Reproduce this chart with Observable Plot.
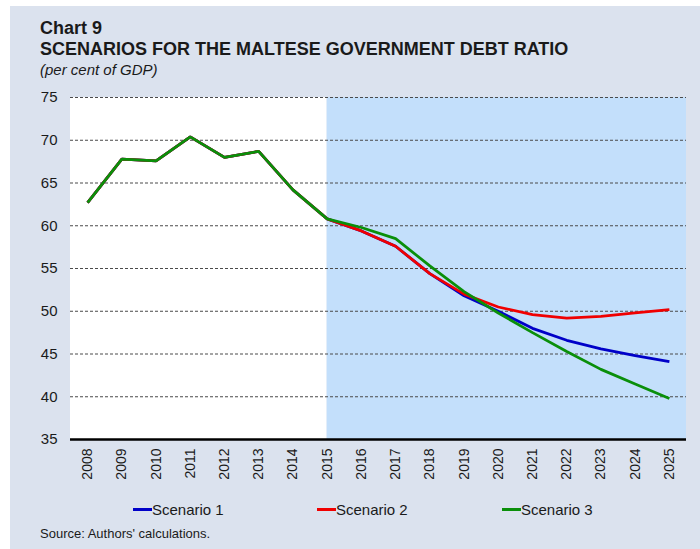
<!DOCTYPE html>
<html>
<head>
<meta charset="utf-8">
<script src="https://cdn.jsdelivr.net/npm/d3@7"></script>
<script src="https://cdn.jsdelivr.net/npm/@observablehq/plot@0.6"></script>
<style>
  html, body { margin: 0; padding: 0; background: #ffffff; }
  #page { position: relative; width: 700px; height: 549px; overflow: hidden; font-family: "Liberation Sans", Arial, sans-serif; color: #1a1a1a; }
  #panel { position: absolute; left: 10px; top: 6px; right: 0; bottom: 0; background: #dbe2ee; }
  .t { position: absolute; white-space: nowrap; line-height: 1; }
  #chart { position: absolute; left: 0; top: 80px; }
  .sw { position: absolute; height: 3px; width: 19px; }
</style>
</head>
<body>
<div id="page">
  <div id="panel"></div>
  <div class="t" style="left:40px; top:18.8px; font-size:18px; font-weight:bold;">Chart 9</div>
  <div class="t" style="left:40px; top:39.8px; font-size:18px; font-weight:bold;">SCENARIOS FOR THE MALTESE GOVERNMENT DEBT RATIO</div>
  <div class="t" style="left:40px; top:61.8px; font-size:15px; font-style:italic;">(per cent of GDP)</div>
  <div id="chart"></div>
  <div id="legend"></div>
  <div class="t" style="left:40px; top:527px; font-size:13px;">Source: Authors' calculations.</div>
</div>
<script>
// ---- data ----
const years = [2008, 2009, 2010, 2011, 2012, 2013, 2014, 2015, 2016, 2017, 2018, 2019, 2020, 2021, 2022, 2023, 2024, 2025];
const historical = [62.7, 67.8, 67.6, 70.4, 68.0, 68.7, 64.2, 60.8]; // 2008-2015
const projectionYears = [2016, 2017, 2018, 2019, 2020, 2021, 2022, 2023, 2024, 2025];
const scenario1 = [59.4, 57.6, 54.4, 51.8, 50.0, 48.0, 46.6, 45.6, 44.8, 44.1];
const scenario2 = [59.4, 57.6, 54.4, 52.0, 50.5, 49.6, 49.2, 49.4, 49.8, 50.2];
const scenario3 = [59.8, 58.5, 55.3, 52.3, 49.8, 47.5, 45.3, 43.2, 41.5, 39.8];
const seriesNames = ["Scenario 1", "Scenario 2", "Scenario 3"];
const seriesColors = ["#0000c8", "#f00000", "#0a8f0a"];
const yTicks = [35, 40, 45, 50, 55, 60, 65, 70, 75];
const gridValues = [40, 45, 50, 55, 60, 65, 70, 75];
const projectionStart = 2015;
const xDomain = [2007.5, 2025.5];
const yDomain = [35, 75];

// ---- build table ----
const histYears = years.slice(0, historical.length);
const projections = [scenario1, scenario2, scenario3];
const rows = [];
seriesNames.forEach((name, i) => {
  histYears.forEach((yr, j) => rows.push({series: name, year: yr, value: historical[j]}));
  projectionYears.forEach((yr, j) => rows.push({series: name, year: yr, value: projections[i][j]}));
});

const plot = Plot.plot({
  width: 700,
  height: 410,
  marginTop: 17,
  marginBottom: 51,
  marginLeft: 70,
  marginRight: 14,
  style: {background: "transparent", fontFamily: "Liberation Sans, Arial, sans-serif", color: "#1a1a1a"},
  x: {domain: xDomain, axis: null},
  y: {domain: yDomain, axis: null},
  color: {domain: seriesNames, range: seriesColors},
  marks: [
    Plot.rect([{x1: xDomain[0], x2: projectionStart, y1: yDomain[0], y2: yDomain[1]}], {x1: "x1", x2: "x2", y1: "y1", y2: "y2", fill: "#ffffff"}),
    Plot.rect([{x1: projectionStart, x2: xDomain[1], y1: yDomain[0], y2: yDomain[1]}], {x1: "x1", x2: "x2", y1: "y1", y2: "y2", fill: "#c3dffb"}),
    Plot.ruleY(gridValues, {stroke: "#4a4a4a", strokeWidth: 1, strokeDasharray: "3,2"}),
    Plot.line(rows, {x: "year", y: "value", z: "series", stroke: "series", strokeWidth: 2.75, strokeLinejoin: "miter", strokeLinecap: "butt"}),
    Plot.ruleY([yDomain[0]], {stroke: "#000000", strokeWidth: 2.5}),
    Plot.axisY({ticks: yTicks, tickSize: 0, tickPadding: 13, fontSize: 15, fill: "#1a1a1a"}),
    Plot.axisX({ticks: years, tickFormat: d => String(d), tickRotate: -90, tickSize: 0, tickPadding: 9, fontSize: 14, fill: "#1a1a1a"})
  ]
});
document.getElementById("chart").appendChild(plot);

// ---- legend ----
const legendX = [133, 317, 502];
const legend = document.getElementById("legend");
seriesNames.forEach((name, i) => {
  const sw = document.createElement("div");
  sw.className = "sw";
  sw.style.left = legendX[i] + "px";
  sw.style.top = "508px";
  sw.style.background = seriesColors[i];
  legend.appendChild(sw);
  const tx = document.createElement("div");
  tx.className = "t";
  tx.style.left = (legendX[i] + 19) + "px";
  tx.style.top = "502px";
  tx.style.fontSize = "15px";
  tx.textContent = name;
  legend.appendChild(tx);
});
</script>
</body>
</html>
